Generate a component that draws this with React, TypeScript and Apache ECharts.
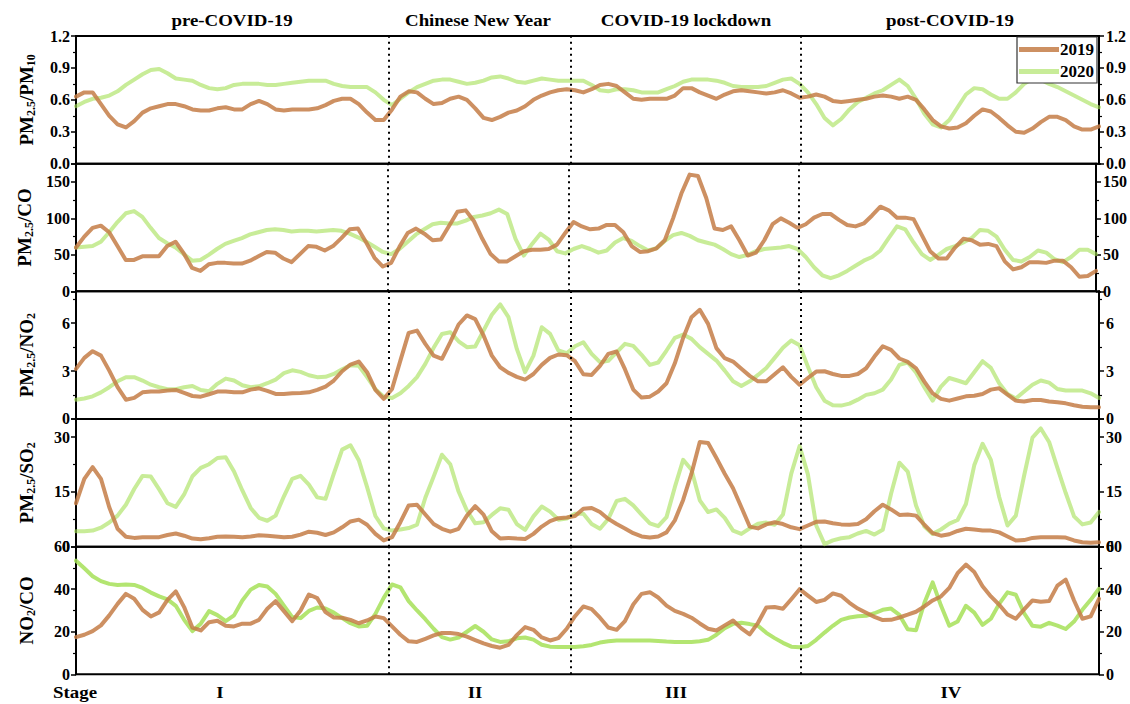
import React, { useEffect, useRef } from 'react';
import * as echarts from 'echarts';

// ---------------- data (daily values, index 0..123) ----------------
const stageBounds = [37.63, 59.48, 87.17];
const periodTitles = ['pre-COVID-19', 'Chinese New Year', 'COVID-19 lockdown', 'post-COVID-19'];
const stageLabels = ['I', 'II', 'III', 'IV'];
const seriesNames = ['2019', '2020'];

const p1_2019 = [
  0.63, 0.67, 0.67, 0.56, 0.45, 0.37, 0.34, 0.40, 0.48, 0.52,
  0.54, 0.56, 0.56, 0.54, 0.51, 0.50, 0.50, 0.52, 0.53, 0.51,
  0.51, 0.56, 0.59, 0.56, 0.51, 0.50, 0.51, 0.51, 0.51, 0.52,
  0.55, 0.59, 0.61, 0.61, 0.56, 0.48, 0.41, 0.41, 0.51, 0.63,
  0.68, 0.67, 0.61, 0.56, 0.57, 0.61, 0.63, 0.60, 0.52, 0.43,
  0.41, 0.44, 0.48, 0.50, 0.54, 0.60, 0.64, 0.67, 0.69, 0.70,
  0.69, 0.67, 0.70, 0.74, 0.75, 0.73, 0.67, 0.61, 0.60, 0.61,
  0.61, 0.61, 0.64, 0.71, 0.71, 0.67, 0.64, 0.61, 0.65, 0.68,
  0.69, 0.68, 0.67, 0.66, 0.67, 0.69, 0.66, 0.62, 0.63, 0.65,
  0.63, 0.59, 0.58, 0.59, 0.60, 0.61, 0.63, 0.64, 0.63, 0.61,
  0.63, 0.60, 0.51, 0.41, 0.35, 0.33, 0.34, 0.38, 0.45, 0.51,
  0.49, 0.43, 0.36, 0.30, 0.29, 0.33, 0.39, 0.44, 0.44, 0.41,
  0.35, 0.32, 0.32, 0.35,
];
const p1_2020 = [
  0.54, 0.58, 0.61, 0.62, 0.64, 0.68, 0.74, 0.79, 0.84, 0.88,
  0.89, 0.85, 0.80, 0.79, 0.78, 0.74, 0.71, 0.70, 0.71, 0.74,
  0.75, 0.75, 0.75, 0.74, 0.74, 0.75, 0.76, 0.77, 0.78, 0.78,
  0.78, 0.75, 0.73, 0.72, 0.72, 0.72, 0.67, 0.60, 0.55, 0.61,
  0.67, 0.72, 0.75, 0.78, 0.79, 0.79, 0.77, 0.75, 0.76, 0.78,
  0.81, 0.82, 0.80, 0.77, 0.76, 0.78, 0.80, 0.79, 0.78, 0.78,
  0.78, 0.78, 0.74, 0.69, 0.68, 0.70, 0.70, 0.69, 0.67, 0.67,
  0.67, 0.70, 0.73, 0.77, 0.79, 0.79, 0.79, 0.78, 0.76, 0.73,
  0.72, 0.72, 0.72, 0.73, 0.76, 0.79, 0.80, 0.75, 0.67, 0.56,
  0.43, 0.36, 0.42, 0.51, 0.58, 0.62, 0.66, 0.69, 0.74, 0.79,
  0.73, 0.61, 0.47, 0.37, 0.34, 0.41, 0.53, 0.65, 0.71, 0.70,
  0.65, 0.61, 0.61, 0.67, 0.75, 0.80, 0.79, 0.75, 0.72, 0.68,
  0.64, 0.60, 0.56, 0.53,
];
const p2_2019 = [
  60, 75, 87, 90, 81, 62, 43, 43, 48, 48,
  48, 62, 68, 52, 32, 28, 37, 39, 39, 38,
  38, 42, 48, 54, 53, 45, 40, 51, 62, 61,
  56, 62, 73, 85, 86, 67, 46, 34, 39, 61,
  80, 86, 79, 70, 71, 90, 109, 111, 96, 72,
  51, 41, 41, 48, 55, 57, 57, 58, 64, 80,
  95, 89, 85, 86, 91, 91, 81, 62, 54, 55,
  59, 70, 100, 134, 160, 158, 128, 86, 84, 89,
  70, 49, 53, 70, 92, 100, 94, 87, 92, 101,
  106, 106, 98, 91, 89, 93, 104, 116, 111, 101,
  101, 99, 77, 55, 45, 45, 60, 72, 70, 64,
  65, 62, 41, 30, 33, 40, 40, 39, 42, 42,
  33, 20, 21, 28,
];
const p2_2020 = [
  60, 61, 62, 68, 81, 95, 107, 110, 102, 87,
  73, 66, 60, 51, 42, 43, 50, 58, 65, 69,
  73, 78, 81, 84, 85, 84, 82, 83, 83, 82,
  83, 84, 83, 79, 74, 68, 61, 54, 51, 58,
  68, 78, 85, 92, 94, 93, 93, 97, 102, 104,
  107, 112, 106, 72, 49, 65, 79, 71, 55, 52,
  58, 62, 58, 53, 56, 67, 73, 69, 62, 56,
  59, 69, 77, 80, 76, 70, 67, 64, 58, 51,
  47, 50, 55, 58, 59, 60, 62, 58, 47, 33,
  22, 18, 22, 28, 35, 42, 47, 56, 73, 89,
  85, 67, 51, 43, 50, 58, 62, 67, 73, 84,
  83, 75, 57, 43, 41, 47, 56, 53, 44, 40,
  47, 57, 57, 51,
];
const p3_2019 = [
  3.14, 3.83, 4.25, 3.97, 3.03, 1.99, 1.21, 1.32, 1.67, 1.72,
  1.72, 1.78, 1.82, 1.63, 1.44, 1.40, 1.55, 1.72, 1.72, 1.67,
  1.67, 1.84, 1.92, 1.76, 1.57, 1.57, 1.61, 1.63, 1.67, 1.82,
  2.03, 2.41, 2.99, 3.41, 3.60, 2.93, 1.82, 1.26, 1.88, 3.66,
  5.40, 5.54, 4.71, 3.97, 3.77, 4.81, 5.92, 6.49, 6.26, 5.23,
  3.97, 3.24, 2.89, 2.64, 2.47, 2.82, 3.39, 3.83, 4.04, 4.00,
  3.62, 2.80, 2.76, 3.33, 4.08, 4.23, 3.12, 1.84, 1.34, 1.40,
  1.72, 2.24, 3.49, 5.08, 6.38, 6.84, 5.96, 4.44, 3.81, 3.60,
  3.14, 2.70, 2.36, 2.36, 2.80, 3.24, 2.64, 2.15, 2.57, 2.97,
  2.99, 2.82, 2.70, 2.70, 2.82, 3.18, 3.91, 4.56, 4.33, 3.79,
  3.58, 3.18, 2.34, 1.61, 1.26, 1.15, 1.28, 1.42, 1.46, 1.57,
  1.84, 1.92, 1.53, 1.15, 1.09, 1.19, 1.19, 1.09, 1.05, 0.98,
  0.86, 0.77, 0.73, 0.73,
];
const p3_2020 = [
  1.21, 1.28, 1.42, 1.67, 1.99, 2.36, 2.62, 2.62, 2.41, 2.15,
  1.99, 1.86, 1.86, 1.99, 2.07, 1.82, 1.74, 2.20, 2.53, 2.41,
  2.11, 1.99, 2.05, 2.24, 2.47, 2.87, 3.05, 2.95, 2.74, 2.62,
  2.64, 2.82, 3.12, 3.37, 3.33, 2.62, 1.86, 1.40, 1.32, 1.61,
  2.07, 2.62, 3.45, 4.46, 5.33, 5.44, 4.87, 4.50, 4.54, 5.54,
  6.53, 7.18, 6.38, 4.39, 2.93, 3.97, 5.75, 5.33, 4.29, 4.12,
  4.56, 4.81, 4.08, 3.56, 3.64, 4.18, 4.71, 4.58, 4.02, 3.39,
  3.54, 4.29, 5.08, 5.29, 5.02, 4.50, 4.08, 3.66, 3.03, 2.36,
  2.07, 2.36, 2.76, 3.20, 3.83, 4.46, 4.92, 4.62, 3.28, 1.99,
  1.15, 0.86, 0.84, 0.96, 1.21, 1.51, 1.61, 1.84, 2.47, 3.39,
  3.54, 2.91, 1.99, 1.15, 2.03, 2.57, 2.41, 2.24, 2.93, 3.62,
  3.20, 2.24, 1.57, 1.28, 1.72, 2.15, 2.41, 2.28, 1.88, 1.78,
  1.78, 1.78, 1.61, 1.32,
];
const p4_2019 = [
  11.9, 18.6, 21.8, 18.6, 10.8, 4.9, 2.7, 2.4, 2.6, 2.6,
  2.6, 3.2, 3.6, 3.0, 2.2, 2.0, 2.3, 2.7, 2.8, 2.7,
  2.6, 2.8, 3.1, 3.0, 2.8, 2.6, 2.7, 3.3, 4.1, 3.8,
  3.2, 3.9, 5.3, 6.9, 7.4, 6.0, 3.5, 1.7, 2.6, 6.7,
  11.3, 11.5, 8.8, 6.2, 4.9, 4.1, 4.9, 8.5, 11.1, 8.8,
  4.2, 2.2, 2.4, 2.2, 2.1, 3.5, 5.5, 7.0, 7.8, 8.0,
  8.4, 10.4, 10.6, 9.5, 7.6, 6.2, 5.0, 3.7, 2.8, 2.5,
  2.8, 3.9, 7.2, 12.8, 20.0, 28.7, 28.4, 24.3, 20.0, 16.0,
  10.8, 5.5, 5.0, 6.1, 6.7, 6.2, 5.3, 4.8, 5.8, 6.8,
  6.9, 6.4, 6.1, 6.0, 6.2, 7.5, 9.7, 11.5, 10.2, 8.7,
  8.8, 8.5, 6.0, 3.7, 3.0, 3.4, 4.3, 4.9, 4.7, 4.4,
  4.4, 3.9, 2.8, 1.7, 1.8, 2.4, 2.6, 2.6, 2.6, 2.5,
  1.7, 1.2, 1.1, 1.2,
];
const p4_2020 = [
  4.2, 4.2, 4.4, 5.2, 6.6, 8.5, 11.5, 15.8, 19.4, 19.2,
  15.7, 11.9, 10.9, 14.3, 19.3, 21.6, 22.6, 24.3, 24.5, 20.6,
  15.4, 10.6, 7.9, 7.1, 8.5, 13.8, 18.6, 19.4, 17.0, 13.5,
  13.1, 20.0, 26.6, 27.8, 23.7, 16.3, 8.4, 5.0, 4.4, 4.7,
  5.1, 6.0, 13.4, 19.2, 25.2, 22.6, 15.1, 9.9, 6.4, 6.7,
  8.7, 10.5, 10.1, 6.2, 4.6, 8.3, 11.0, 9.6, 7.4, 7.7,
  9.0, 9.0, 6.2, 4.9, 7.6, 12.5, 13.1, 11.3, 8.8, 6.4,
  5.6, 8.1, 16.3, 23.8, 21.1, 12.7, 9.5, 10.2, 7.9, 4.4,
  3.5, 5.0, 6.3, 6.6, 6.0, 8.8, 20.0, 27.6, 19.8, 5.8,
  0.7, 1.7, 2.3, 2.6, 3.6, 4.3, 3.3, 4.6, 14.5, 23.0,
  20.6, 11.3, 5.5, 3.5, 4.7, 6.3, 7.3, 11.7, 22.3, 28.2,
  23.8, 13.6, 5.8, 8.5, 19.5, 29.9, 32.4, 28.7, 21.6, 14.7,
  8.3, 6.1, 6.6, 9.5,
];
const p5_2019 = [
  17.5, 18.6, 20.3, 23.0, 27.7, 33.1, 37.8, 35.5, 30.3, 27.2,
  29.1, 35.0, 39.0, 31.6, 21.9, 20.6, 24.5, 25.2, 22.8, 22.5,
  23.8, 23.8, 25.6, 30.8, 34.4, 29.7, 25.0, 30.0, 37.5, 35.8,
  29.2, 26.7, 26.6, 25.6, 24.0, 25.3, 27.2, 26.4, 22.5, 18.6,
  15.5, 15.2, 16.7, 18.3, 19.4, 19.4, 18.9, 17.7, 16.1, 14.5,
  13.3, 12.5, 13.8, 18.4, 22.2, 20.9, 17.3, 15.9, 17.0, 21.4,
  27.3, 31.9, 30.6, 26.6, 22.0, 20.9, 25.0, 32.8, 37.8, 38.6,
  36.1, 32.3, 29.8, 28.4, 26.6, 23.9, 21.4, 20.6, 23.0, 25.3,
  21.6, 18.8, 24.2, 31.4, 31.6, 30.8, 35.3, 40.0, 37.0, 34.0,
  35.0, 38.0, 36.9, 33.6, 30.9, 28.9, 27.0, 25.5, 25.6, 26.7,
  28.0, 29.4, 31.9, 34.7, 36.6, 40.6, 47.5, 51.6, 48.1, 41.4,
  36.6, 32.7, 28.1, 26.1, 30.5, 34.7, 34.1, 34.4, 41.7, 44.5,
  34.7, 26.1, 27.2, 35.5,
];
const p5_2020 = [
  53.4, 49.8, 46.1, 43.8, 42.5, 42.0, 42.2, 42.0, 40.6, 38.4,
  36.6, 35.2, 32.2, 25.6, 20.3, 23.8, 29.7, 27.8, 25.0, 27.7,
  34.7, 39.8, 42.0, 41.3, 37.8, 32.3, 26.9, 26.4, 29.8, 31.4,
  30.9, 29.0, 26.4, 24.0, 22.5, 22.8, 28.4, 35.9, 42.2, 40.9,
  34.4, 30.0, 25.9, 21.4, 17.5, 16.3, 17.3, 20.0, 22.7, 20.0,
  16.4, 15.2, 15.5, 16.9, 17.3, 16.3, 13.9, 13.0, 12.8, 12.8,
  12.8, 13.2, 13.8, 14.9, 15.5, 15.9, 15.9, 15.9, 15.9, 15.9,
  15.7, 15.4, 15.2, 15.2, 15.2, 15.5, 16.2, 18.6, 21.7, 23.7,
  24.2, 23.6, 22.8, 19.5, 17.0, 14.8, 13.0, 12.7, 13.3, 16.2,
  19.6, 22.8, 25.6, 26.7, 27.3, 27.5, 28.7, 30.3, 30.9, 27.9,
  21.2, 20.7, 33.5, 43.2, 32.3, 22.8, 24.8, 32.2, 29.0, 23.2,
  26.1, 33.1, 38.5, 37.4, 28.7, 22.8, 22.4, 24.2, 22.9, 21.3,
  24.8, 30.3, 35.0, 40.2,
];

// ---------------- panel definitions ----------------
const panelNames = [
  '{m|PM}{s|2.5}{m|/PM}{s|10}',
  '{m|PM}{s|2.5}{m|/CO}',
  '{m|PM}{s|2.5}{m|/NO}{s|2}',
  '{m|PM}{s|2.5}{m|/SO}{s|2}',
  '{m|NO}{s|2}{m|/CO}',
];
const panelMax = [1.2, 175, 8, 35, 60];
const panelInterval = [0.3, 50, 3, 15, 20];
const panelShowMax = [true, false, false, false, true];
const data2019 = [p1_2019, p2_2019, p3_2019, p4_2019, p5_2019];
const data2020 = [p1_2020, p2_2020, p3_2020, p4_2020, p5_2020];
const greenOpacity = [0.62, 0.62, 0.62, 0.62, 0.85];

const FONT = '"Liberation Serif", "Times New Roman", serif';
const BROWN = '#c47d47';
const GREEN = '#a6e058';
const LEFT = 76;
const RIGHT = 31;
const TOP = 36;
const PH = 127.66;
const X_MAX = 123;

function buildOption() {
  const grids: any[] = [];
  const xAxes: any[] = [];
  const yAxes: any[] = [];
  const series: any[] = [];

  const axisLabelBase = {
    fontFamily: FONT,
    fontWeight: 'bold',
    fontSize: 16,
    color: '#000',
  };

  panelNames.forEach((nm, k) => {
    grids.push({
      left: LEFT,
      right: RIGHT,
      top: TOP + PH * k,
      height: PH,
      show: true,
      borderColor: '#000',
      borderWidth: 2,
      backgroundColor: 'transparent',
    });
    xAxes.push({
      type: 'value',
      gridIndex: k,
      min: 0,
      max: X_MAX,
      axisLine: { show: false },
      axisTick: { show: false },
      axisLabel: { show: false },
      splitLine: { show: false },
    });
    const yCommon = {
      type: 'value',
      gridIndex: k,
      min: 0,
      max: panelMax[k],
      interval: panelInterval[k],
      splitLine: { show: false },
      axisLine: { show: true, lineStyle: { color: '#000', width: 2 } },
      axisTick: { show: true, length: 5, lineStyle: { color: '#000', width: 1.5 } },
      minorTick: { show: true, splitNumber: 2, length: 3, lineStyle: { color: '#000', width: 1.2 } },
    };
    yAxes.push({
      ...yCommon,
      position: 'left',
      name: nm,
      nameLocation: 'middle',
      nameRotate: 90,
      nameGap: 40,
      nameTextStyle: {
        color: '#000',
        fontFamily: FONT,
        fontWeight: 'bold',
        fontSize: 19,
        rich: {
          m: { fontFamily: FONT, fontWeight: 'bold', fontSize: 19, color: '#000', lineHeight: 20 },
          s: { fontFamily: FONT, fontWeight: 'bold', fontSize: 12, color: '#000', lineHeight: 12, padding: [10, 0, 0, 0] },
        },
      },
      axisLabel: {
        ...axisLabelBase,
        margin: 6,
        showMaxLabel: panelShowMax[k],
        formatter: (v: number) => (k === 0 ? v.toFixed(1) : String(v)),
      },
    });
    yAxes.push({
      ...yCommon,
      position: 'right',
      axisLabel: {
        ...axisLabelBase,
        margin: 7,
        showMaxLabel: panelShowMax[k],
        formatter: (v: number) => (k === 0 ? v.toFixed(1) : String(v)),
      },
    });

    series.push({
      type: 'line',
      name: seriesNames[1],
      xAxisIndex: k,
      yAxisIndex: 2 * k,
      data: data2020[k].map((v, i) => [i, v]),
      symbol: 'none',
      showSymbol: false,
      z: 2,
      itemStyle: { color: GREEN, opacity: greenOpacity[k] },
      lineStyle: { color: GREEN, width: 4, opacity: greenOpacity[k], join: 'round', cap: 'round' },
      markLine: {
        silent: true,
        symbol: 'none',
        label: { show: false },
        lineStyle: { color: '#000', width: 2, type: [2, 4], opacity: 1 },
        data: stageBounds.map((b) => ({ xAxis: b })),
      },
    });
    series.push({
      type: 'line',
      name: seriesNames[0],
      xAxisIndex: k,
      yAxisIndex: 2 * k,
      data: data2019[k].map((v, i) => [i, v]),
      symbol: 'none',
      showSymbol: false,
      z: 3,
      itemStyle: { color: BROWN, opacity: 0.85 },
      lineStyle: { color: BROWN, width: 4, opacity: 0.85, join: 'round', cap: 'round' },
    });
  });

  const titleX = [232, 478, 686, 950];
  const stageX = [220, 475, 676, 951];
  const textStyle = (t: string) => ({
    text: t,
    fill: '#000',
    fontFamily: FONT,
    fontWeight: 'bold',
    fontSize: 16,
    textAlign: 'center',
    textVerticalAlign: 'middle',
    align: 'center',
    verticalAlign: 'middle',
  });
  const graphic: any[] = [];
  periodTitles.forEach((t, i) => {
    graphic.push({ type: 'text', x: titleX[i], y: 21, scaleX: 1.18, style: textStyle(t) });
  });
  stageLabels.forEach((t, i) => {
    graphic.push({ type: 'text', x: stageX[i], y: 693, scaleX: 1.18, style: textStyle(t) });
  });
  graphic.push({ type: 'text', x: 75, y: 693, scaleX: 1.18, style: textStyle('Stage') });

  return {
    animation: false,
    backgroundColor: '#fff',
    grid: grids,
    xAxis: xAxes,
    yAxis: yAxes,
    series,
    legend: {
      data: seriesNames,
      icon: 'rect',
      orient: 'vertical',
      right: 33,
      top: 37,
      itemWidth: 40,
      itemHeight: 5,
      itemGap: 5,
      padding: [4, 3, 3, 2],
      borderColor: '#333',
      borderWidth: 1.2,
      backgroundColor: '#fff',
      z: 10,
      textStyle: { fontFamily: FONT, fontWeight: 'bold', fontSize: 17, color: '#000', padding: [0, 0, 0, -4] },
    },
    graphic,
  };
}

export default function App() {
  const ref = useRef<HTMLDivElement>(null);
  useEffect(() => {
    if (!ref.current) return;
    const chart = echarts.init(ref.current, undefined, { renderer: 'svg' });
    chart.setOption(buildOption() as any);
    return () => chart.dispose();
  }, []);
  return (
    <div
      ref={ref}
      style={{ position: 'absolute', left: 0, top: 0, width: 1130, height: 704, background: '#fff' }}
    />
  );
}
